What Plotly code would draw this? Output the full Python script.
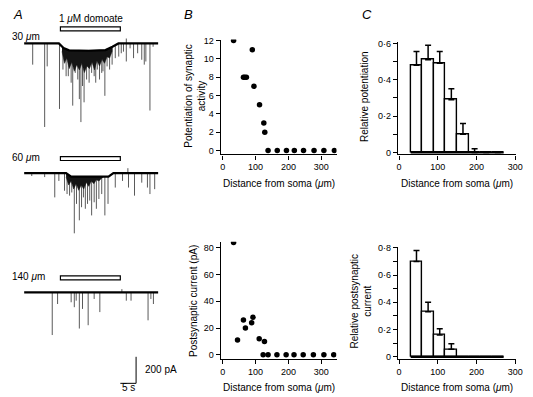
import numpy as np
import plotly.graph_objects as go

W, H = 533, 397
OFF = 8  # page body margin offsets the figure by 8 px
FONT = "Liberation Sans, Arial, sans-serif"

# ---------------- Panel A data (time s, current pA) ----------------
drug_on, drug_off = 11.0, 30.0

# 30 um
sag30_t = [-0.5, 10.5, 12.0, 13.75, 20.0, 25.3, 27.5, 29.4, 42.0]
sag30_i = [0, 0, -35, -52, -55, -50, -25, 0, 0]
sp30_t = [2.2, 6.0, 6.8, 10.7, 11.8, 12.8, 13.5, 14.4, 14.9, 15.7, 16.5, 17.0, 17.5, 18.0, 18.5,
          19.3, 20.1, 20.9, 21.7, 22.2, 22.7, 23.4, 24.1, 24.5, 25.1, 25.8, 26.6, 27.4, 28.4,
          29.5, 30.3, 31.0, 31.9, 33.1, 34.2, 35.5, 36.8, 37.6, 38.1, 39.4, 40.4, 31.9]
sp30_i = [-160, -630, -173, -494, -197, -247, -247, -296, -469, -222, -272, -420, -593, -321, -444,
          -272, -296, -222, -247, -296, -197, -272, -222, -210, -395, -173, -197, -160, -111,
          -99, -74, -62, -136, -37, -111, -74, -123, -160, -136, -506, -25, 37]
env30_t = [11.5, 12.3, 13.0, 13.8, 14.6, 15.4, 16.2, 17.0, 17.8, 18.6, 19.4, 20.2, 21.0, 21.8,
           22.6, 23.4, 24.2, 25.0, 25.8, 26.6, 27.4]
env30_i = [-60, -150, -110, -190, -140, -210, -160, -200, -150, -220, -170, -190, -140, -200,
           -130, -170, -120, -150, -100, -110, -60]

# 60 um
sag60_t = [-0.5, 12.8, 14.4, 26.25, 27.8, 42.0]
sag60_i = [0, 0, -26, -26, 0, 0]
sp60_t = [1.9, 6.0, 9.2, 10.5, 12.3, 13.1, 13.9, 14.6, 15.4, 16.1, 17.0, 17.7, 18.3, 18.9, 19.6,
          20.3, 20.9, 21.7, 22.4, 23.2, 24.1, 25.1, 26.1, 28.4, 30.7, 32.6, 34.5, 36.8, 38.6,
          39.4, 40.9, 32.4]
sp60_i = [-22, -30, -183, -59, -133, -158, -170, -146, -454, -232, -356, -257, -183, -269, -232,
          -207, -319, -220, -269, -195, -158, -319, -232, -109, -59, -109, -170, -72, -109,
          -158, -121, 37]
env60_t = [12.8, 13.6, 14.4, 15.2, 16.0, 16.8, 17.6, 18.4, 19.2, 20.0, 20.8, 21.6, 22.4, 23.2,
           24.0, 24.8]
env60_i = [-30, -90, -60, -120, -80, -130, -90, -120, -70, -100, -60, -80, -50, -60, -40, -30]

# 140 um
sag140_t = [-0.5, 42.0]
sag140_i = [0, 0]
sp140_t = [8.4, 10.1, 14.4, 15.4, 16.0, 17.0, 18.0, 19.8, 21.7, 23.5, 30.5, 31.9, 33.4, 38.8, 39.7, 40.5]
sp140_i = [-321, -87, -74, -111, -62, -272, -124, -247, -49, -148, 25, -62, -62, -210, -49, -87]

trace_labels = ["30 <i>μ</i>m", "60 <i>μ</i>m", "140 <i>μ</i>m"]
drug_label = "1 <i>μ</i>M domoate"
scale_t, scale_i = 5, 200  # s, pA

# ---------------- Panel B data ----------------
b1_x = [33, 63, 67, 72, 90, 95, 112, 125, 128, 138, 166, 194, 218, 246, 278, 308, 340]
b1_y = [12, 8, 8, 8, 11, 7, 5, 3, 2, 0, 0, 0, 0, 0, 0, 0, 0]
b2_x = [33, 45, 63, 69, 88, 92, 111, 127, 123, 138, 165, 193, 217, 245, 276, 308, 338]
b2_y = [84, 11, 26, 20, 24, 28, 12, 10, 0, 0, 0, 0, 0, 0, 0, 0, 0]

# ---------------- Panel C data ----------------
bin_width = 30
bin_centers = [45, 75, 105, 135, 165, 195, 225, 255]
c1_val = [0.48, 0.51, 0.49, 0.29, 0.10, 0.0, 0.0, 0.0]
c1_err = [0.075, 0.08, 0.065, 0.06, 0.06, 0.02, None, None]
c2_val = [0.70, 0.33, 0.16, 0.055, 0.0, 0.0, 0.0, 0.0]
c2_err = [0.08, 0.07, 0.045, 0.04, None, None, None, None]

# ---------------- Layout helpers (screen pixels -> paper) ----------------
def px(x):
    return (x - OFF) / W

def py(y):
    return 1 - (y - OFF) / H

A_XPIX = 3.2
A_YPIX = 0.135
A_LEFT, A_RIGHT = OFF, 188
a_xrange = [(A_LEFT - 24) / A_XPIX, (A_RIGHT - 24) / A_XPIX]
a_yrange = [-(H + OFF) / A_YPIX, -OFF / A_YPIX]
offsets = [-40 / A_YPIX, -172 / A_YPIX, -293.5 / A_YPIX]

fig = go.Figure()

def add_trace_A(sag_t, sag_i, sp_t, sp_i, off, env_t=None, env_i=None):
    xs, ys = [], []
    for t, i in zip(sp_t, sp_i):
        base = float(np.interp(t, sag_t, sag_i))
        xs += [t, t, None]
        ys += [off + base, off + i, None]
    fig.add_trace(go.Scatter(x=xs, y=ys, mode="lines", line=dict(color="#5a5a5a", width=1),
                             xaxis="x", yaxis="y", hoverinfo="skip", showlegend=False))
    if env_t is not None:
        base_env = list(np.interp(env_t, sag_t, sag_i))
        ex = list(env_t) + list(env_t)[::-1]
        ey = [off + v for v in env_i] + [off + v for v in base_env[::-1]]
        fig.add_trace(go.Scatter(x=ex, y=ey, mode="lines", fill="toself", fillcolor="#151515",
                                 line=dict(color="#151515", width=0.5),
                                 xaxis="x", yaxis="y", hoverinfo="skip", showlegend=False))
    fig.add_trace(go.Scatter(x=sag_t, y=[off + v for v in sag_i], mode="lines",
                             line=dict(color="black", width=2.2),
                             xaxis="x", yaxis="y", hoverinfo="skip", showlegend=False))

add_trace_A(sag30_t, sag30_i, sp30_t, sp30_i, offsets[0], env30_t, env30_i)
add_trace_A(sag60_t, sag60_i, sp60_t, sp60_i, offsets[1], env60_t, env60_i)
add_trace_A(sag140_t, sag140_i, sp140_t, sp140_i, offsets[2])

shapes = []
for off in offsets:
    shapes.append(dict(type="rect", xref="x", yref="y", x0=drug_on, x1=drug_off,
                       y0=off + 95, y1=off + 125, line=dict(color="black", width=1.2),
                       fillcolor="white"))
sb_t1 = (136 - 24) / A_XPIX
sb_y0 = -386 / A_YPIX
shapes.append(dict(type="line", xref="x", yref="y", x0=sb_t1 - scale_t, x1=sb_t1,
                   y0=sb_y0, y1=sb_y0, line=dict(color="black", width=1)))
shapes.append(dict(type="line", xref="x", yref="y", x0=sb_t1, x1=sb_t1,
                   y0=sb_y0, y1=sb_y0 + scale_i, line=dict(color="black", width=1)))

# Panel B
mk = dict(color="black", size=5.5)
fig.add_trace(go.Scatter(x=b1_x, y=b1_y, mode="markers", marker=mk, xaxis="x2", yaxis="y2",
                         showlegend=False))
fig.add_trace(go.Scatter(x=b2_x, y=b2_y, mode="markers", marker=mk, xaxis="x3", yaxis="y3",
                         showlegend=False))

# Panel C
def add_bars(vals, errs, xa, ya):
    fig.add_trace(go.Bar(x=bin_centers, y=vals, width=bin_width, xaxis=xa, yaxis=ya,
                         marker=dict(color="white", line=dict(color="black", width=1.4)),
                         error_y=dict(type="data", symmetric=False, array=errs,
                                      arrayminus=[0 if e is not None else None for e in errs],
                                      color="black", thickness=1.5, width=3),
                         showlegend=False))
    # heavy baseline under the histogram bins
    fig.add_trace(go.Scatter(x=[bin_centers[0] - bin_width / 2, bin_centers[-1] + bin_width / 2],
                             y=[0, 0], mode="lines", line=dict(color="black", width=2.2),
                             xaxis=xa, yaxis=ya, hoverinfo="skip", showlegend=False))

add_bars(c1_val, c1_err, "x4", "y4")
add_bars(c2_val, c2_err, "x5", "y5")

axis_common = dict(showgrid=False, zeroline=False, showline=True, linecolor="black",
                   linewidth=1.3, ticks="outside", ticklen=4, tickwidth=1.2, tickcolor="black",
                   tickfont=dict(family=FONT, size=9, color="black"))

fig.update_layout(
    width=W, height=H, margin=dict(l=0, r=0, t=0, b=0),
    paper_bgcolor="white", plot_bgcolor="white",
    font=dict(family=FONT, size=10, color="black"),
    bargap=0,
    xaxis=dict(domain=[px(A_LEFT), px(A_RIGHT)], range=a_xrange, visible=False, fixedrange=True),
    yaxis=dict(domain=[0, 1], range=a_yrange, visible=False, fixedrange=True),
    xaxis2=dict(domain=[px(222), px(339.5)], range=[-6, 346.5], anchor="y2",
                tickvals=[0, 100, 200, 300], **axis_common),
    yaxis2=dict(domain=[py(153), py(36)], range=[-0.43, 12.11], anchor="x2",
                tickvals=[0, 2, 4, 6, 8, 10, 12], **axis_common),
    xaxis3=dict(domain=[px(222), px(339.5)], range=[-6, 346.5], anchor="y3",
                tickvals=[0, 100, 200, 300], **axis_common),
    yaxis3=dict(domain=[py(361), py(242)], range=[-2.94, 84.4], anchor="x3",
                tickvals=[0, 20, 40, 60, 80], **axis_common),
    xaxis4=dict(domain=[px(402), px(522)], range=[-2.5, 302.6], anchor="y4",
                tickvals=[0, 100, 200, 300], **axis_common),
    yaxis4=dict(domain=[py(153), py(39)], range=[-0.0108, 0.605], anchor="x4",
                tickvals=[0, 0.1, 0.2, 0.3, 0.4, 0.5, 0.6],
                ticktext=["0", "", "0·2", "", "0·4", "", "0·6"], **axis_common),
    xaxis5=dict(domain=[px(402), px(522)], range=[-2.5, 302.6], anchor="y5",
                tickvals=[0, 100, 200, 300], **axis_common),
    yaxis5=dict(domain=[py(361), py(247)], range=[-0.0144, 0.807], anchor="x5",
                tickvals=[0, 0.1, 0.2, 0.3, 0.4, 0.5, 0.6, 0.7, 0.8],
                ticktext=["0", "", "0·2", "", "0·4", "", "0·6", "", "0·8"], **axis_common),
    shapes=shapes,
)

ann = []
def text(x, y, s, size=10, xanchor="center", yanchor="middle", angle=0, italic=False):
    ann.append(dict(x=px(x), y=py(y), xref="paper", yref="paper", text=s, showarrow=False,
                    xanchor=xanchor, yanchor=yanchor, textangle=angle,
                    font=dict(family=FONT, size=size, color="black",
                              style="italic" if italic else "normal")))

text(9, 11, "A", size=13, xanchor="left", italic=True)
text(183, 11, "B", size=13, xanchor="left", italic=True)
text(363, 11, "C", size=13, xanchor="left", italic=True)
text(90, 15, drug_label)
text(8, 33, trace_labels[0], xanchor="left")
text(8, 156, trace_labels[1], xanchor="left")
text(8, 277, trace_labels[2], xanchor="left")
text(143, 372, f"{scale_i} pA", xanchor="left")
text(128, 390, f"{scale_t} s")
xt = "Distance from soma (<i>μ</i>m)"
text(281, 183, xt)
text(281, 390, xt)
text(462, 183, xt)
text(462, 390, xt)
text(196, 94, "Potentiation of synaptic<br>activity", angle=-90)
text(195, 302, "Postsynaptic current (pA)", angle=-90)
text(368, 94, "Relative potentiation", angle=-90)
text(364, 302, "Relative postsynaptic<br>current", angle=-90)
fig.update_layout(annotations=ann)

fig.write_html("out.html")
